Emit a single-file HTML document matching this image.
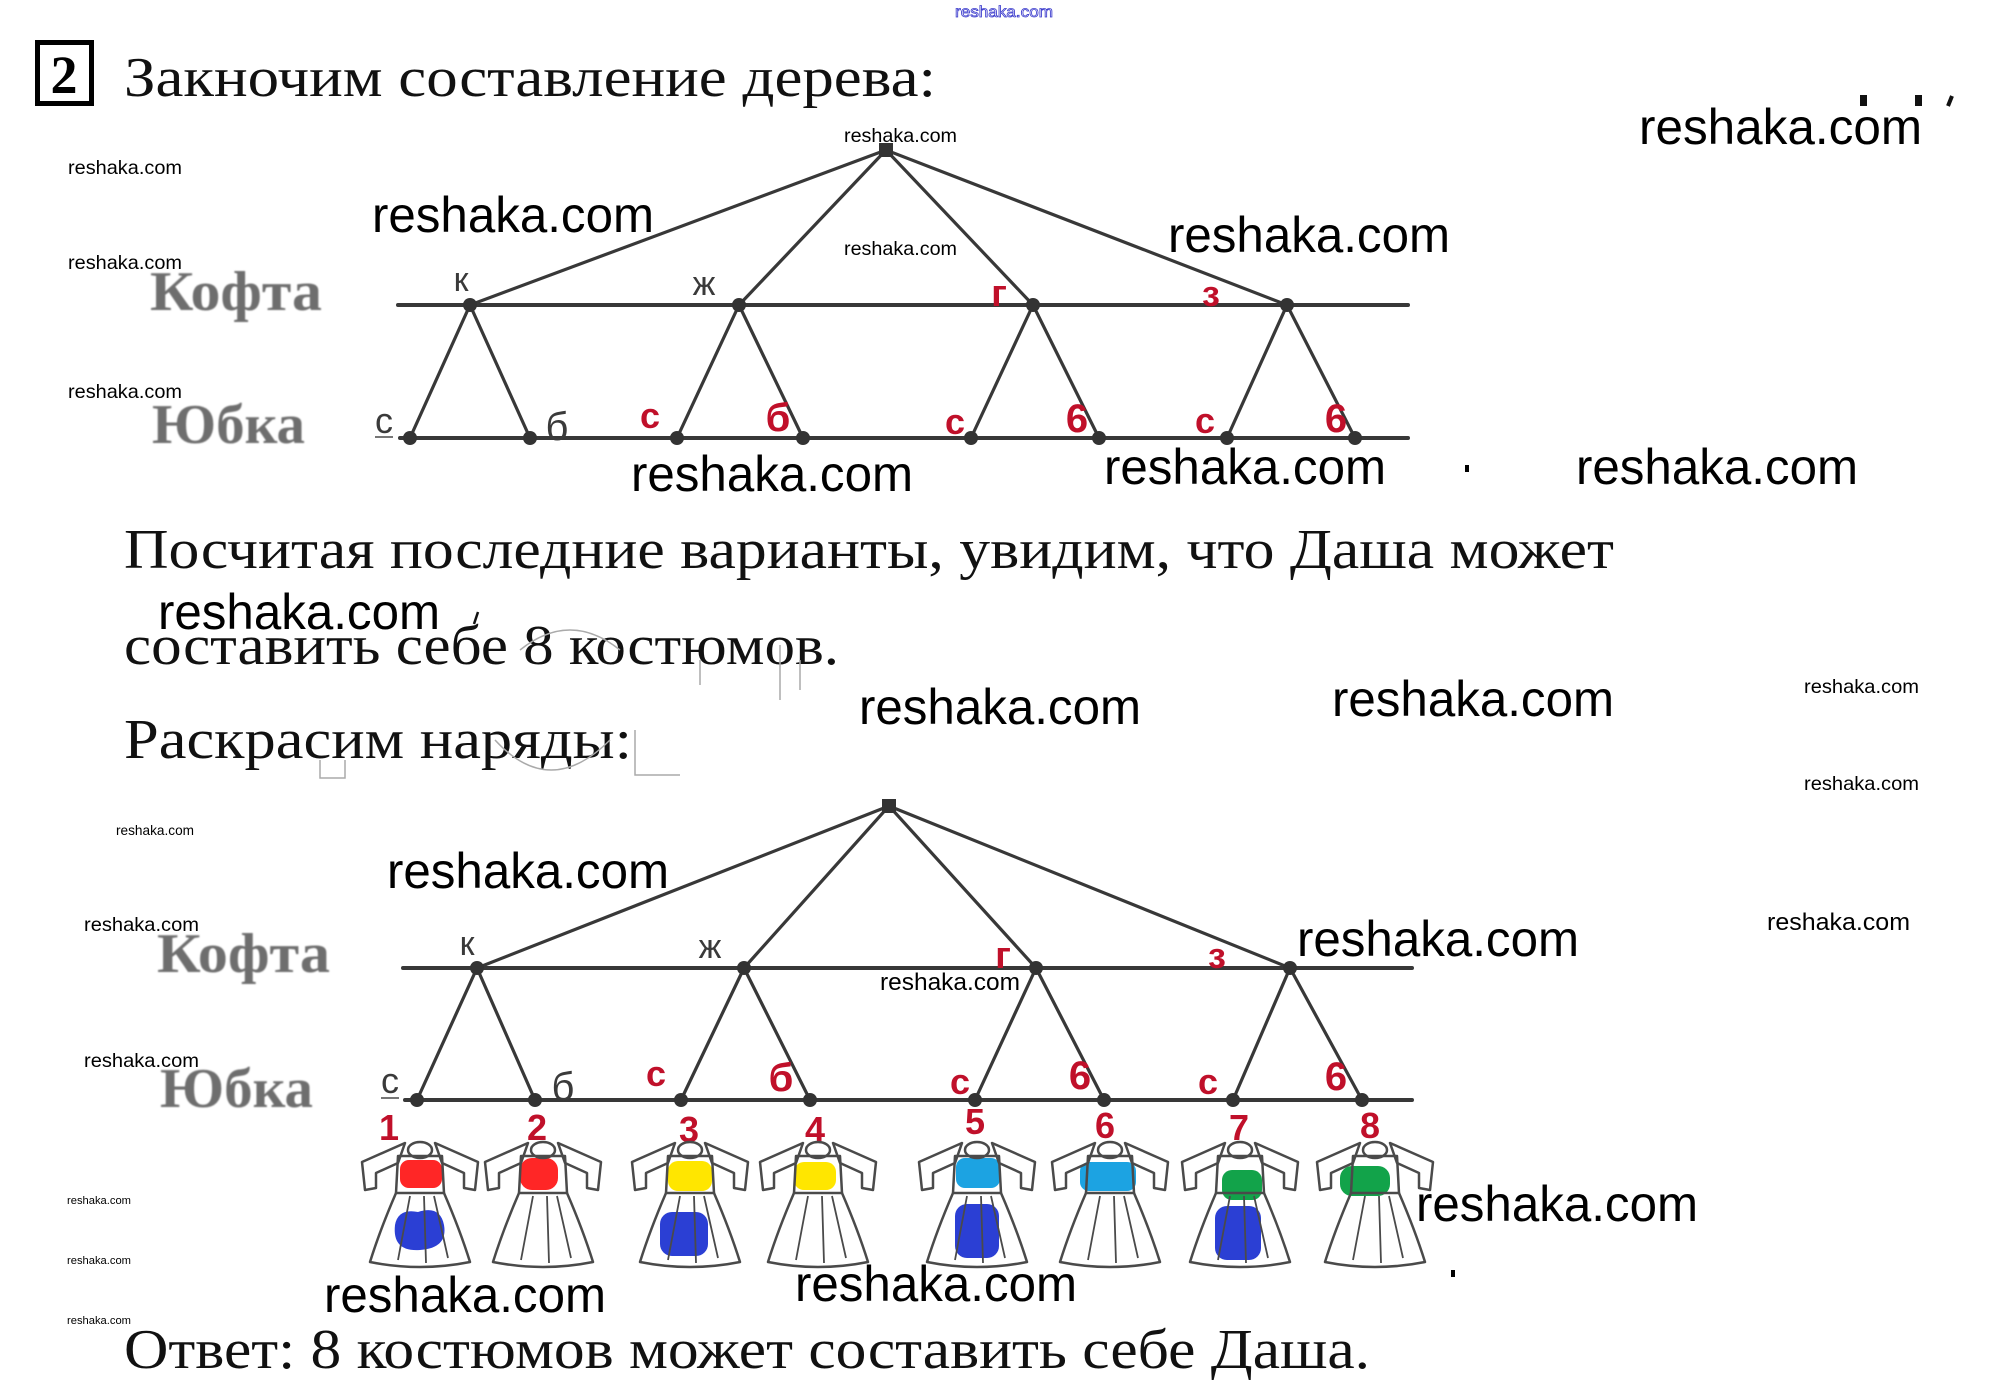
<!DOCTYPE html>
<html><head><meta charset="utf-8"><style>
html,body{margin:0;padding:0;background:#fff;}
svg{display:block;}
.wm{font-family:"Liberation Sans",sans-serif;fill:#000;}
.ser{font-family:"Liberation Serif","Noto Serif CJK SC",serif;fill:#111;}
.lab{font-family:"Liberation Sans","DejaVu Sans",sans-serif;fill:#3a3a3a;}
.red{font-family:"Liberation Sans","DejaVu Sans",sans-serif;fill:#c0102a;font-weight:bold;}
.gl{font-family:"Liberation Serif",serif;fill:#6e6e6e;font-weight:bold;}
</style></head><body>
<svg width="2006" height="1392" viewBox="0 0 2006 1392" xmlns="http://www.w3.org/2000/svg">
<defs>
<filter id="bl" x="-10%" y="-20%" width="120%" height="140%"><feGaussianBlur stdDeviation="0.8"/></filter>
<g id="dress" fill="none" stroke="#4a4a4a" stroke-width="2.5" stroke-linejoin="round">
  <ellipse cx="0" cy="1150" rx="12" ry="8"/>
  <polygon points="-15,1143 -58,1162 -55,1190 -44,1188 -44,1173 -22,1163"/>
  <polygon points="15,1143 58,1162 55,1190 44,1188 44,1173 22,1163"/>
  <path d="M-22,1156 L22,1156 L24,1193 L-24,1193 Z"/>
  <path d="M-24,1193 Q-40,1230 -50,1262 Q0,1272 50,1262 Q40,1230 24,1193"/>
  <path d="M-10,1196 L-22,1260 M4,1196 L6,1263 M14,1196 L28,1258" stroke-width="1.8"/>
</g>
</defs>

<!-- top blue link -->
<text x="955" y="17" font-family="Liberation Sans,sans-serif" font-size="16" fill="#ffffff" stroke="#3a3acc" stroke-width="0.8" textLength="98" lengthAdjust="spacingAndGlyphs">reshaka.com</text>

<!-- box 2 -->
<rect x="37.5" y="42.5" width="54" height="61" fill="none" stroke="#000" stroke-width="5"/>
<text x="64" y="93" text-anchor="middle" font-family="Liberation Serif,serif" font-weight="bold" font-size="54" fill="#000">2</text>

<!-- heading -->
<text class="ser" x="124" y="96" font-size="56" textLength="812" lengthAdjust="spacingAndGlyphs">Закночим составление дерева:</text>

<!-- top right partial glyphs -->
<rect x="1860" y="95" width="7" height="11" fill="#111"/>
<rect x="1915" y="95" width="7" height="11" fill="#111"/>
<path d="M1952,96 L1948,106" stroke="#111" stroke-width="4"/>

<!-- ========== TREE 1 ========== -->
<text class="gl" x="150" y="310" font-size="56" textLength="172" lengthAdjust="spacingAndGlyphs" filter="url(#bl)">Кофта</text>
<text class="gl" x="152" y="443" font-size="56" textLength="153" lengthAdjust="spacingAndGlyphs" filter="url(#bl)">Юбка</text>

<g stroke="#383838" stroke-width="3.2" stroke-linecap="round">
  <line x1="398" y1="305" x2="1408" y2="305" stroke-width="4"/>
  <line x1="400" y1="438" x2="1408" y2="438" stroke-width="4"/>
  <line x1="886" y1="150" x2="470" y2="305"/>
  <line x1="886" y1="150" x2="739" y2="305"/>
  <line x1="886" y1="150" x2="1033" y2="305"/>
  <line x1="886" y1="150" x2="1287" y2="305"/>
  <line x1="470" y1="305" x2="410" y2="438"/>
  <line x1="470" y1="305" x2="530" y2="438"/>
  <line x1="739" y1="305" x2="677" y2="438"/>
  <line x1="739" y1="305" x2="803" y2="438"/>
  <line x1="1033" y1="305" x2="971" y2="438"/>
  <line x1="1033" y1="305" x2="1099" y2="438"/>
  <line x1="1287" y1="305" x2="1227" y2="438"/>
  <line x1="1287" y1="305" x2="1355" y2="438"/>
</g>
<g fill="#333">
  <rect x="879" y="143" width="14" height="14"/>
  <circle cx="470" cy="305" r="7"/><circle cx="739" cy="305" r="7"/><circle cx="1033" cy="305" r="7"/><circle cx="1287" cy="305" r="7"/>
  <circle cx="410" cy="438" r="7"/><circle cx="530" cy="438" r="7"/><circle cx="677" cy="438" r="7"/><circle cx="803" cy="438" r="7"/>
  <circle cx="971" cy="438" r="7"/><circle cx="1099" cy="438" r="7"/><circle cx="1227" cy="438" r="7"/><circle cx="1355" cy="438" r="7"/>
</g>
<text class="lab" x="461" y="291" font-size="34" text-anchor="middle">к</text>
<text class="lab" x="704" y="295" font-size="34" text-anchor="middle">ж</text>
<text class="red" x="999" y="306" font-size="38" text-anchor="middle">г</text>
<text class="red" x="1211" y="306" font-size="36" text-anchor="middle">з</text>
<text class="lab" x="384" y="433" font-size="36" text-anchor="middle">с</text>
<rect x="375" y="436" width="18" height="2" fill="#777"/>
<text class="lab" x="557" y="440" font-size="40" text-anchor="middle">б</text>
<text class="red" x="650" y="428" font-size="36" text-anchor="middle">с</text>
<text class="red" x="778" y="431" font-size="40" text-anchor="middle">б</text>
<text class="red" x="955" y="434" font-size="36" text-anchor="middle">с</text>
<text class="red" x="1077" y="432" font-size="40" text-anchor="middle">6</text>
<text class="red" x="1205" y="433" font-size="36" text-anchor="middle">с</text>
<text class="red" x="1336" y="432" font-size="40" text-anchor="middle">6</text>

<!-- middle text -->
<text class="ser" x="124" y="568" font-size="56" textLength="1490" lengthAdjust="spacingAndGlyphs">Посчитая последние варианты, увидим, что Даша может</text>
<text class="ser" x="124" y="664" font-size="56" textLength="715" lengthAdjust="spacingAndGlyphs">составить себе 8 костюмов.</text>
<text class="ser" x="124" y="758" font-size="56" textLength="508" lengthAdjust="spacingAndGlyphs">Раскрасим наряды:</text>
<g fill="none" stroke="#aaa" stroke-width="1.5">
  <path d="M520,650 Q570,610 620,650"/>
  <path d="M780,645 L780,700 M800,660 L800,690 M700,660 L700,685"/>
  <path d="M495,740 Q550,800 610,740"/>
  <path d="M320,760 L320,778 L345,778 L345,760 M635,730 L635,775 L680,775"/>
</g>
<path d="M478,612 L474,624" stroke="#111" stroke-width="2.5"/>

<!-- ========== TREE 2 ========== -->
<text class="gl" x="157" y="972" font-size="56" textLength="173" lengthAdjust="spacingAndGlyphs" filter="url(#bl)">Кофта</text>
<text class="gl" x="160" y="1107" font-size="56" textLength="153" lengthAdjust="spacingAndGlyphs" filter="url(#bl)">Юбка</text>

<g stroke="#383838" stroke-width="3.2" stroke-linecap="round">
  <line x1="403" y1="968" x2="1412" y2="968" stroke-width="4"/>
  <line x1="405" y1="1100" x2="1412" y2="1100" stroke-width="4"/>
  <line x1="889" y1="806" x2="477" y2="968"/>
  <line x1="889" y1="806" x2="744" y2="968"/>
  <line x1="889" y1="806" x2="1036" y2="968"/>
  <line x1="889" y1="806" x2="1290" y2="968"/>
  <line x1="477" y1="968" x2="417" y2="1100"/>
  <line x1="477" y1="968" x2="535" y2="1100"/>
  <line x1="744" y1="968" x2="681" y2="1100"/>
  <line x1="744" y1="968" x2="810" y2="1100"/>
  <line x1="1036" y1="968" x2="975" y2="1100"/>
  <line x1="1036" y1="968" x2="1104" y2="1100"/>
  <line x1="1290" y1="968" x2="1233" y2="1100"/>
  <line x1="1290" y1="968" x2="1362" y2="1100"/>
</g>
<g fill="#333">
  <rect x="882" y="799" width="14" height="14"/>
  <circle cx="477" cy="968" r="7"/><circle cx="744" cy="968" r="7"/><circle cx="1036" cy="968" r="7"/><circle cx="1290" cy="968" r="7"/>
  <circle cx="417" cy="1100" r="7"/><circle cx="535" cy="1100" r="7"/><circle cx="681" cy="1100" r="7"/><circle cx="810" cy="1100" r="7"/>
  <circle cx="975" cy="1100" r="7"/><circle cx="1104" cy="1100" r="7"/><circle cx="1233" cy="1100" r="7"/><circle cx="1362" cy="1100" r="7"/>
</g>
<text class="lab" x="467" y="955" font-size="34" text-anchor="middle">к</text>
<text class="lab" x="710" y="958" font-size="34" text-anchor="middle">ж</text>
<text class="red" x="1003" y="968" font-size="38" text-anchor="middle">г</text>
<text class="red" x="1217" y="968" font-size="36" text-anchor="middle">з</text>
<text class="lab" x="390" y="1093" font-size="36" text-anchor="middle">с</text>
<rect x="381" y="1097" width="18" height="2" fill="#777"/>
<text class="lab" x="563" y="1100" font-size="40" text-anchor="middle">б</text>
<text class="red" x="656" y="1086" font-size="36" text-anchor="middle">с</text>
<text class="red" x="781" y="1091" font-size="40" text-anchor="middle">б</text>
<text class="red" x="960" y="1094" font-size="36" text-anchor="middle">с</text>
<text class="red" x="1080" y="1089" font-size="40" text-anchor="middle">6</text>
<text class="red" x="1208" y="1094" font-size="36" text-anchor="middle">с</text>
<text class="red" x="1336" y="1090" font-size="40" text-anchor="middle">6</text>

<!-- numbers -->
<g class="red" font-size="36" text-anchor="middle">
  <text x="389" y="1140">1</text>
  <text x="537" y="1140">2</text>
  <text x="689" y="1142">3</text>
  <text x="815" y="1142">4</text>
  <text x="975" y="1134">5</text>
  <text x="1105" y="1138">6</text>
  <text x="1239" y="1140">7</text>
  <text x="1370" y="1138">8</text>
</g>

<!-- colored fills -->
<g>
  <rect x="400" y="1160" width="42" height="28" rx="9" fill="#ff2626"/>
  <path d="M395,1225 Q398,1208 418,1212 Q440,1205 444,1225 Q448,1248 420,1250 Q392,1252 395,1225 Z" fill="#2b3fd4"/>
  <rect x="520" y="1158" width="38" height="32" rx="12" fill="#ff2626"/>
  <rect x="668" y="1161" width="44" height="30" rx="10" fill="#ffe600"/>
  <rect x="660" y="1212" width="48" height="44" rx="12" fill="#2b3fd4"/>
  <rect x="794" y="1162" width="42" height="28" rx="10" fill="#ffe600"/>
  <rect x="956" y="1158" width="44" height="30" rx="9" fill="#1ca3e2"/>
  <rect x="955" y="1204" width="44" height="54" rx="12" fill="#2b3fd4"/>
  <rect x="1080" y="1162" width="56" height="29" rx="9" fill="#1ca3e2"/>
  <rect x="1222" y="1170" width="40" height="30" rx="10" fill="#12a34a"/>
  <rect x="1215" y="1206" width="46" height="54" rx="12" fill="#2b3fd4"/>
  <rect x="1340" y="1166" width="50" height="30" rx="12" fill="#12a34a"/>
</g>
<use href="#dress" x="420"/>
<use href="#dress" x="543"/>
<use href="#dress" x="690"/>
<use href="#dress" x="818"/>
<use href="#dress" x="977"/>
<use href="#dress" x="1110"/>
<use href="#dress" x="1240"/>
<use href="#dress" x="1375"/>

<!-- answer -->
<text class="ser" x="124" y="1368" font-size="56" textLength="1246" lengthAdjust="spacingAndGlyphs">Ответ: 8 костюмов может составить себе Даша.</text>

<!-- large watermarks -->
<g class="wm" font-size="50">
  <text x="1639" y="144" textLength="283" lengthAdjust="spacingAndGlyphs">reshaka.com</text>
  <text x="372" y="232" textLength="282" lengthAdjust="spacingAndGlyphs">reshaka.com</text>
  <text x="1168" y="252" textLength="282" lengthAdjust="spacingAndGlyphs">reshaka.com</text>
  <text x="631" y="491" textLength="282" lengthAdjust="spacingAndGlyphs">reshaka.com</text>
  <text x="1104" y="484" textLength="282" lengthAdjust="spacingAndGlyphs">reshaka.com</text>
  <text x="1576" y="484" textLength="282" lengthAdjust="spacingAndGlyphs">reshaka.com</text>
  <text x="158" y="629" textLength="282" lengthAdjust="spacingAndGlyphs">reshaka.com</text>
  <text x="859" y="724" textLength="282" lengthAdjust="spacingAndGlyphs">reshaka.com</text>
  <text x="1332" y="716" textLength="282" lengthAdjust="spacingAndGlyphs">reshaka.com</text>
  <text x="387" y="888" textLength="282" lengthAdjust="spacingAndGlyphs">reshaka.com</text>
  <text x="1297" y="956" textLength="282" lengthAdjust="spacingAndGlyphs">reshaka.com</text>
  <text x="1416" y="1221" textLength="282" lengthAdjust="spacingAndGlyphs">reshaka.com</text>
  <text x="324" y="1312" textLength="282" lengthAdjust="spacingAndGlyphs">reshaka.com</text>
  <text x="795" y="1301" textLength="282" lengthAdjust="spacingAndGlyphs">reshaka.com</text>
</g>
<rect x="1465" y="465" width="4" height="7" fill="#000"/>
<rect x="1451" y="1270" width="4" height="7" fill="#000"/>

<!-- small watermarks -->
<g class="wm" font-size="19.5">
  <text x="844" y="142" textLength="113" lengthAdjust="spacingAndGlyphs">reshaka.com</text>
  <text x="844" y="255" textLength="113" lengthAdjust="spacingAndGlyphs">reshaka.com</text>
  <text x="68" y="174" textLength="114" lengthAdjust="spacingAndGlyphs">reshaka.com</text>
  <text x="68" y="269" textLength="114" lengthAdjust="spacingAndGlyphs">reshaka.com</text>
  <text x="68" y="398" textLength="114" lengthAdjust="spacingAndGlyphs">reshaka.com</text>
  <text x="1804" y="693" textLength="115" lengthAdjust="spacingAndGlyphs">reshaka.com</text>
  <text x="1804" y="790" textLength="115" lengthAdjust="spacingAndGlyphs">reshaka.com</text>
  <text x="84" y="931" textLength="115" lengthAdjust="spacingAndGlyphs">reshaka.com</text>
  <text x="84" y="1067" textLength="115" lengthAdjust="spacingAndGlyphs">reshaka.com</text>
</g>
<g class="wm" font-size="24">
  <text x="880" y="990" textLength="140" lengthAdjust="spacingAndGlyphs">reshaka.com</text>
  <text x="1767" y="930" textLength="143" lengthAdjust="spacingAndGlyphs">reshaka.com</text>
</g>
<g class="wm" font-size="14">
  <text x="116" y="835" textLength="78" lengthAdjust="spacingAndGlyphs">reshaka.com</text>
</g>
<g class="wm" font-size="11">
  <text x="67" y="1204" textLength="64" lengthAdjust="spacingAndGlyphs">reshaka.com</text>
  <text x="67" y="1264" textLength="64" lengthAdjust="spacingAndGlyphs">reshaka.com</text>
  <text x="67" y="1324" textLength="64" lengthAdjust="spacingAndGlyphs">reshaka.com</text>
</g>
</svg>
</body></html>
